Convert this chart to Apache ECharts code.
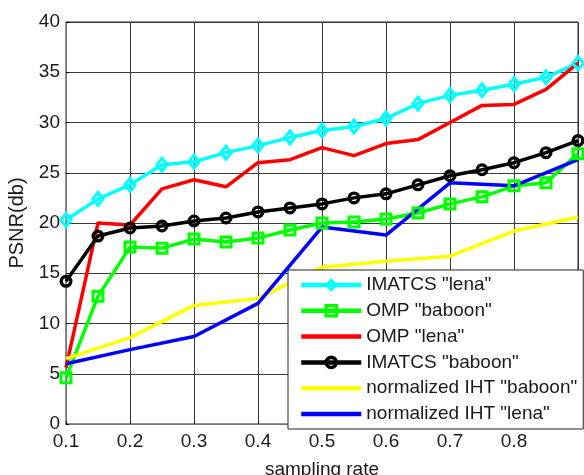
<!DOCTYPE html>
<html>
<head>
<meta charset="utf-8">
<script src="https://cdn.jsdelivr.net/npm/echarts@6/dist/echarts.min.js"></script>
<style>
html,body{margin:0;padding:0;background:#fff;}
#chart{width:584px;height:475px;}
</style>
</head>
<body>
<div id="chart"></div>
<script>
// sampling rates (step 0.05) for the marker series
var ratesFine = [0.1,0.15,0.2,0.25,0.3,0.35,0.4,0.45,0.5,0.55,0.6,0.65,0.7,0.75,0.8,0.85,0.9];
// sampling rates (step 0.1) for the IHT series
var ratesCoarse = [0.1,0.2,0.3,0.4,0.5,0.6,0.7,0.8,0.9];

var imatcsLena   = [20.3,22.4,23.8,25.8,26.1,27.0,27.7,28.5,29.2,29.6,30.4,31.9,32.7,33.2,33.8,34.5,35.9];
var ompBaboon    = [4.6,12.7,17.6,17.5,18.4,18.1,18.5,19.3,20.0,20.1,20.4,21.0,21.9,22.6,23.7,24.0,26.9];
var ompLena      = [5.6,20.0,19.8,23.4,24.3,23.6,26.0,26.3,27.5,26.7,27.9,28.3,30.0,31.7,31.8,33.3,35.9];
var imatcsBaboon = [14.2,18.7,19.5,19.7,20.2,20.5,21.1,21.5,21.9,22.5,22.9,23.8,24.7,25.3,26.0,27.0,28.2];
var ihtBaboon    = [6.5,8.6,11.8,12.5,15.6,16.2,16.7,19.2,20.6];
var ihtLena      = [6.0,7.4,8.7,12.0,19.6,18.8,24.0,23.7,26.3];

var xTickLabels = ['0.1','0.2','0.3','0.4','0.5','0.6','0.7','0.8',''];
var yTicks = [0,5,10,15,20,25,30,35,40];

var names = ['IMATCS "lena"','OMP "baboon"','OMP "lena"','IMATCS "baboon"','normalized IHT "baboon"','normalized IHT "lena"'];

function pairs(xs, ys){ return xs.map(function(x,i){ return [x, ys[i]]; }); }

// hollow marker outlines (outer shape + reversed inner shape => see-through centre)
var RING = 'path://M0,50 A50,50 0 1,1 100,50 A50,50 0 1,1 0,50 Z M26,50 A24,24 0 1,0 74,50 A24,24 0 1,0 26,50 Z';
var HOLLOW_SQ = 'path://M0,0 L100,0 L100,100 L0,100 Z M24,24 L24,76 L76,76 L76,24 Z';
var HOLLOW_DIA = 'path://M50,0 L100,50 L50,100 L0,50 Z M50,30 L22,50 L50,70 L78,50 Z';

var FONT = 'Liberation Sans, Arial, sans-serif';
var TXT = '#1a1a1a';

var chart = echarts.init(document.getElementById('chart'));
chart.setOption({
  animation: false,
  backgroundColor: '#fff',
  grid: {left: 66, right: 6, top: 22, bottom: 51, show: true, borderColor: '#222', borderWidth: 1,
         backgroundColor: '#fff', containLabel: false, outerBoundsMode: 'none'},
  xAxis: {
    type: 'value', min: 0.1, max: 0.9, interval: 0.1,
    name: 'sampling rate', nameLocation: 'middle', nameGap: 36,
    nameTextStyle: {fontFamily: FONT, fontSize: 19, color: TXT},
    axisLine: {lineStyle: {color: '#777', width: 1}},
    axisTick: {inside: true, length: 3, lineStyle: {color: '#000'}},
    axisLabel: {margin: 8, fontFamily: FONT, fontSize: 19, color: TXT,
      formatter: function(v){ var i = Math.round((v - 0.1) * 10); return xTickLabels[i] || ''; }},
    splitLine: {show: true, lineStyle: {color: '#3a3a3a', width: 1}}
  },
  yAxis: {
    type: 'value', min: 0, max: 40, interval: 5,
    name: 'PSNR(db)', nameLocation: 'middle', nameGap: 37,
    nameTextStyle: {fontFamily: FONT, fontSize: 20, color: TXT},
    axisLine: {show: true, lineStyle: {color: '#777', width: 1}},
    axisTick: {show: true, inside: true, length: 3, lineStyle: {color: '#000'}},
    axisLabel: {margin: 6, fontFamily: FONT, fontSize: 19, color: TXT,
      formatter: function(v){ return yTicks.indexOf(v) >= 0 ? String(v) : ''; }},
    splitLine: {show: true, lineStyle: {color: '#3a3a3a', width: 1}}
  },
  legend: {
    left: 288, top: 270, width: 295,
    orient: 'vertical',
    backgroundColor: '#fff', borderColor: '#222', borderWidth: 1,
    padding: [5, 6, 5, 11],
    itemWidth: 60, itemHeight: 17, itemGap: 5.8,
    lineStyle: {width: 4.5},
    textStyle: {fontFamily: FONT, fontSize: 19, color: TXT, lineHeight: 20},
    data: [
      {name: names[0]},
      {name: names[1]},
      {name: names[2], itemStyle: {opacity: 0}},
      {name: names[3]},
      {name: names[4], itemStyle: {opacity: 0}},
      {name: names[5], itemStyle: {opacity: 0}}
    ]
  },
  series: [
    {name: names[0], type: 'line', data: pairs(ratesFine, imatcsLena),
     symbol: HOLLOW_DIA, symbolSize: [14, 18], symbolKeepAspect: false, showAllSymbol: true,
     lineStyle: {color: '#00ffff', width: 3.5},
     itemStyle: {color: '#00ffff'}},
    {name: names[1], type: 'line', data: pairs(ratesFine, ompBaboon),
     symbol: HOLLOW_SQ, symbolSize: 13, showAllSymbol: true,
     lineStyle: {color: '#00ff00', width: 3.5},
     itemStyle: {color: '#00ff00'}},
    {name: names[2], type: 'line', data: pairs(ratesFine, ompLena),
     symbol: 'none',
     lineStyle: {color: '#ff0000', width: 3.5},
     itemStyle: {color: '#ff0000'}},
    {name: names[3], type: 'line', data: pairs(ratesFine, imatcsBaboon),
     symbol: RING, symbolSize: 13, showAllSymbol: true,
     lineStyle: {color: '#000000', width: 3.5},
     itemStyle: {color: '#000000'}},
    {name: names[4], type: 'line', data: pairs(ratesCoarse, ihtBaboon),
     symbol: 'none',
     lineStyle: {color: '#ffff00', width: 3.5},
     itemStyle: {color: '#ffff00'}},
    {name: names[5], type: 'line', data: pairs(ratesCoarse, ihtLena),
     symbol: 'none',
     lineStyle: {color: '#0000ff', width: 3.5},
     itemStyle: {color: '#0000ff'}}
  ]
});
</script>
</body>
</html>
